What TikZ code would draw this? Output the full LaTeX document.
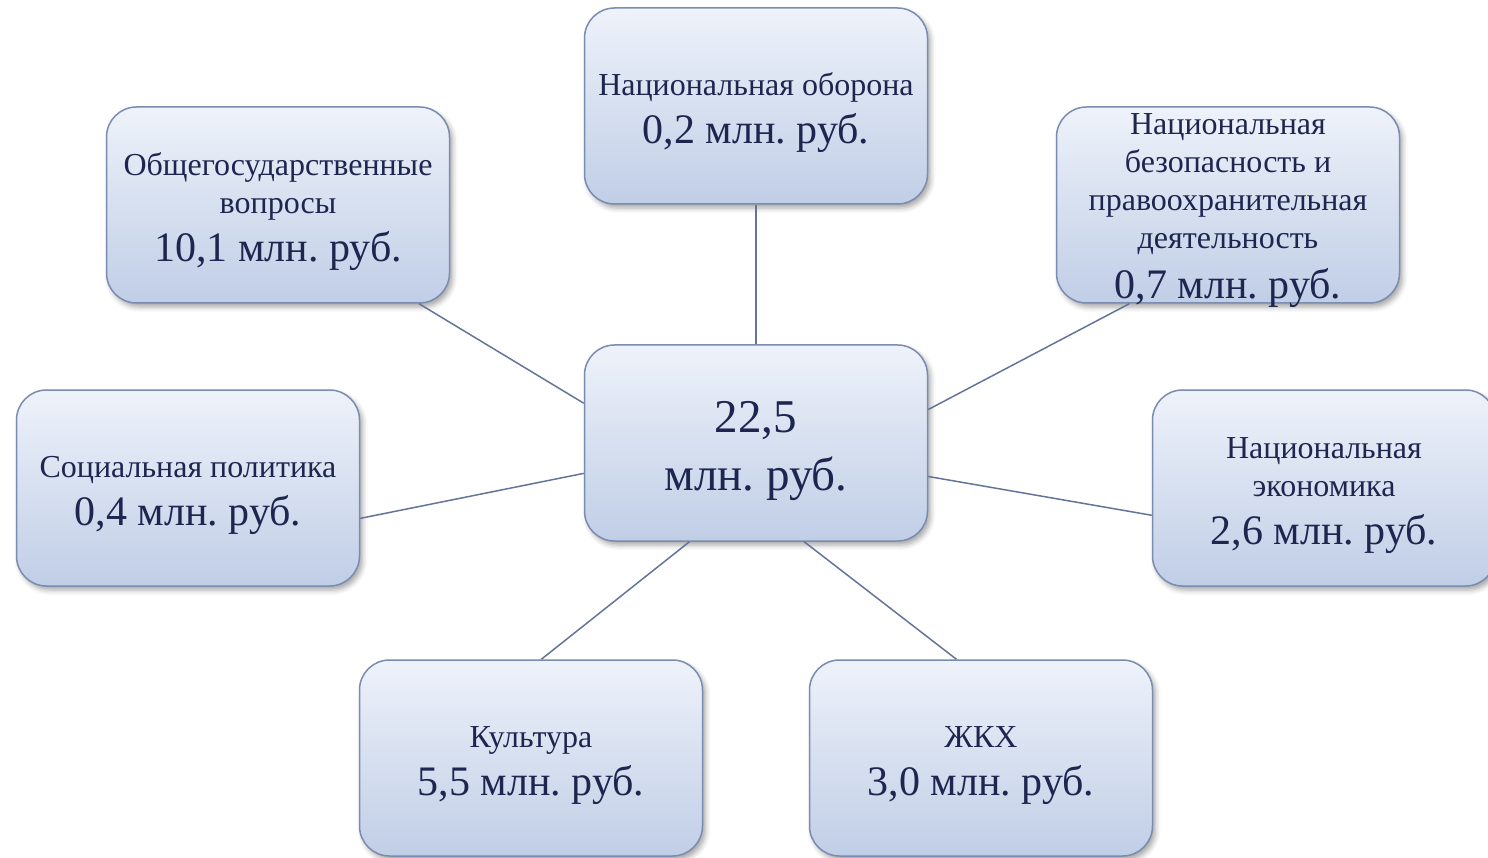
\documentclass[tikz,border=0pt]{standalone}
\usepackage{fontspec}
\setmainfont{Liberation Serif}
\usetikzlibrary{shadows.blur}
\definecolor{BoxTop}{RGB}{238,242,250}
\definecolor{BoxBottom}{RGB}{192,206,230}
\definecolor{BoxEdge}{RGB}{122,140,176}
\definecolor{TextNavy}{RGB}{30,38,80}
\definecolor{LinkBlue}{RGB}{100,116,152}
\newcommand{\sumline}[1]{{\fontsize{42}{48}\selectfont #1}}
\newcommand{\topgap}[1][37pt]{\rule{0pt}{#1}}
\frenchspacing

\begin{document}
\begin{tikzpicture}[x=1pt, y=-1pt,
    budget/.style={draw=BoxEdge, line width=1.5pt, rounded corners=30pt,
        minimum width=343pt, minimum height=196pt, inner sep=0pt,
        top color=BoxTop, bottom color=BoxBottom, text=TextNavy,
        align=center, font=\fontsize{32}{38}\selectfont,
        blur shadow={shadow xshift=3pt, shadow yshift=-4pt,
            shadow blur radius=5pt, shadow opacity=35}},
    link/.style={draw=LinkBlue, line width=1.5pt}]
        \useasboundingbox (0,0) rectangle (1488,858);

        % center
        \node[budget, font=\fontsize{47}{58}\selectfont] (total) at (756,443) {\topgap[48pt]22,5\\млн. руб.};

        % outer boxes
        \node[budget] (defence) at (756,106) {\topgap Национальная оборона\\[10pt]\sumline{0,2 млн. руб.}};
        \node[budget] (general) at (278,205) {\topgap Общегосударственные\\вопросы\\[10pt]\sumline{10,1 млн. руб.}};
        % text runs over the lower edge here
        \node[budget] (security) at (1228,205) {\topgap[23pt]Национальная\\безопасность и\\правоохранительная\\деятельность\\[12pt]\smash{\sumline{0,7 млн. руб.}}};
        \node[budget] (social) at (188,488) {\topgap Социальная политика\\[10pt]\sumline{0,4 млн. руб.}};
        \node[budget] (economy) at (1324,488) {\topgap Национальная\\экономика\\[10pt]\sumline{2,6 млн. руб.}};
        \node[budget] (culture) at (531,758) {\topgap Культура\\[10pt]\sumline{5,5 млн. руб.}};
        \node[budget] (housing) at (981,758) {\topgap ЖКХ\\[10pt]\sumline{3,0 млн. руб.}};

        % links
        \draw[link] (total.north) -- (defence.south);
        \draw[link] (total.167.5) -- (general.325.4);
        \draw[link] (total.11.8) -- (security.225);
        \draw[link] (total.190.6) -- (social.350.4);
        \draw[link] (total.349.4) -- (economy.189);
        \draw[link] (total.236) -- (culture.84.8);
        \draw[link] (total.296.6) -- (housing.104.9);
    \end{tikzpicture}
\end{document}
